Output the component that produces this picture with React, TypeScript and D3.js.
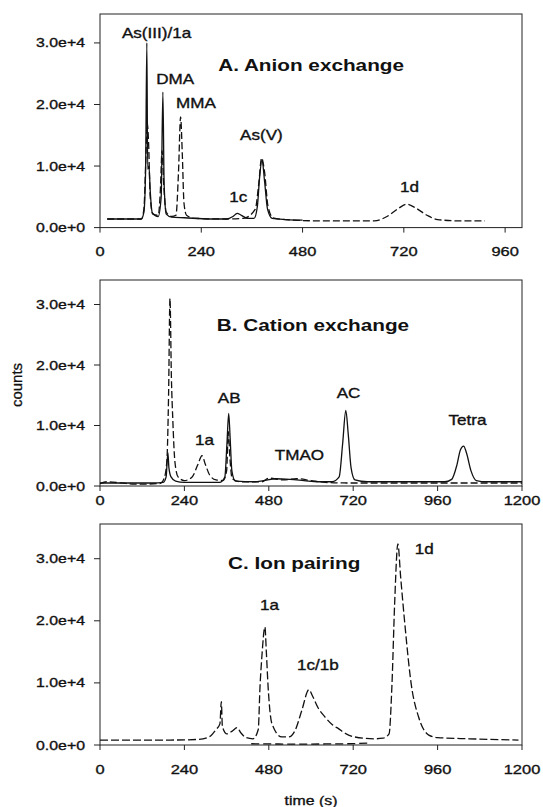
import React from 'react';
import * as d3 from 'd3';

type Pt = [number, number];

// ---- A. Anion exchange (time s, counts)
const anionSolid: Pt[] = [
  [17, 1400], [98, 1400], [104, 2500], [108, 9000], [111, 30000], [113, 9500], [116, 10000],
  [119, 6000], [124, 2400], [138, 1800], [145, 5000], [149, 22000], [152, 7000], [157, 2200],
  [170, 1700], [200, 1600], [260, 1400], [300, 1400], [315, 1800], [325, 2300], [335, 2000],
  [350, 1500], [365, 1500], [373, 3500], [378, 8000], [384, 11000], [390, 7500], [397, 3000],
  [408, 1500], [440, 1300], [480, 1200],
];
const anionDashed: Pt[] = [
  [17, 1400], [98, 1400], [104, 3000], [109, 12000], [112, 17000], [115, 14000], [119, 5000],
  [125, 2200], [138, 2000], [143, 6000], [147, 12500], [151, 7000], [157, 2500], [170, 1800],
  [180, 2000], [186, 9000], [191, 18000], [195, 12000], [199, 4000], [205, 2000], [225, 1500],
  [300, 1400], [340, 1500], [368, 3000], [376, 7000], [383, 11300], [390, 9000], [398, 3500],
  [410, 1600], [440, 1300], [520, 1100], [650, 1100], [680, 1800], [705, 3000], [727, 3800],
  [750, 3100], [775, 2000], [800, 1300], [850, 1100], [912, 1100],
];

// ---- B. Cation exchange
const cationSolid: Pt[] = [
  [0, 500], [150, 500], [180, 600], [188, 1500], [193, 5500], [196, 3000], [202, 1500],
  [215, 800], [240, 600], [340, 600], [355, 1500], [361, 7000], [366, 12000], [370, 8000],
  [375, 2500], [385, 800], [440, 700], [465, 900], [500, 1200], [540, 1100], [580, 900],
  [620, 700], [660, 700], [680, 1500], [690, 7000], [699, 12500], [706, 8500], [714, 3000],
  [725, 1000], [760, 700], [980, 700], [1000, 1100], [1015, 3500], [1025, 6000], [1034, 6600],
  [1042, 5500], [1055, 2500], [1070, 900], [1100, 700], [1200, 700],
];
const cationDashed: Pt[] = [
  [0, 400], [20, 700], [60, 500], [100, 300], [170, 400], [182, 1200], [190, 4000],
  [195, 15000], [199, 31000], [203, 18000], [207, 11000], [213, 4000], [222, 1500], [240, 900],
  [262, 1500], [278, 3500], [290, 5000], [300, 3500], [312, 1800], [330, 1000], [350, 900],
  [360, 2500], [365, 9000], [369, 5000], [376, 1200], [400, 700], [460, 700], [480, 1300],
  [520, 1000], [560, 1200], [600, 900], [640, 600], [700, 500], [900, 500], [1200, 500],
];

// ---- C. Ion pairing
const ionPairDashed: Pt[] = [
  [0, 800], [200, 800], [280, 900], [310, 1300], [330, 2500], [341, 3400], [345, 7000],
  [348, 3000], [360, 1800], [375, 2200], [390, 2800], [400, 2000], [415, 1200], [435, 1000],
  [450, 2500], [455, 9400], [460, 14000], [469, 19000], [473, 15000], [478, 9400], [489, 3400],
  [517, 1300], [537, 1300], [556, 2500], [574, 5600], [594, 8900], [605, 7800], [620, 6000],
  [640, 4500], [660, 3300], [679, 2600], [700, 1800], [724, 1300], [780, 1000], [805, 1100],
  [822, 1800], [830, 9400], [838, 23000], [847, 32400], [855, 27000], [866, 20000],
  [886, 9400], [906, 4500], [935, 1600], [960, 1200], [1050, 1000], [1190, 800],
];
const ionPairLow: Pt[] = [
  [430, 200], [560, 150], [700, 200], [760, 300],
];

const yTicks = [0, 10000, 20000, 30000];
const xTicksA = [0, 240, 480, 720, 960];
const xTicksBC = [0, 240, 480, 720, 960, 1200];

const anionLabels = [
  { text: 'As(III)/1a', t: 52, c: 31600 },
  { text: 'DMA', t: 133, c: 24100 },
  { text: 'MMA', t: 180, c: 20200 },
  { text: 'As(V)', t: 332, c: 15000 },
  { text: '1c', t: 306, c: 5000 },
  { text: '1d', t: 711, c: 6600 },
];
const cationLabels = [
  { text: '1a', t: 270, c: 7600 },
  { text: 'AB', t: 335, c: 14500 },
  { text: 'TMAO', t: 497, c: 5100 },
  { text: 'AC', t: 673, c: 15400 },
  { text: 'Tetra', t: 991, c: 10900 },
];
const ionPairLabels = [
  { text: '1a', t: 455, c: 22500 },
  { text: '1c/1b', t: 560, c: 12900 },
  { text: '1d', t: 895, c: 31600 },
];

const W = 543;
const H = 807;
const PLOT_L = 100;
const PLOT_R = 522;
const STRETCH = 1.22;
const FONT = '"Liberation Sans", Arial, Helvetica, sans-serif';
const INK = '#111';

const fmt = (v: number) => d3.format('.1e')(v);

// scanned figure is a bit wider than tall, so text is stretched sideways
function SText({ x, y, size, weight = 'normal', anchor = 'start', children }: any) {
  return (
    <g transform={`translate(${x},${y}) scale(${STRETCH},1)`}>
      <text
        fontSize={size}
        fontWeight={weight}
        textAnchor={anchor}
        dy="0.35em"
        fill={INK}
        stroke={weight === 'bold' ? 'none' : INK}
        strokeWidth={0.35}
      >
        {children}
      </text>
    </g>
  );
}

type Trace = { data: Pt[]; dash?: string };

function Panel({ top, zero, yMax, xMax, xTicks, labelOff, title, traces, labels }: any) {
  const x = d3.scaleLinear().domain([0, xMax]).range([PLOT_L, PLOT_R]);
  const y = d3.scaleLinear().domain([0, yMax]).range([zero, top]);
  const line = d3
    .line<Pt>()
    .x((d) => x(d[0]))
    .y((d) => y(d[1]))
    .curve(d3.curveMonotoneX);

  return (
    <g>
      <rect x={PLOT_L} y={top} width={PLOT_R - PLOT_L} height={zero - top} fill="none" stroke="#222" strokeWidth={1} />
      {traces.map((tr: Trace, i: number) => (
        <path key={i} d={line(tr.data) || ''} fill="none" stroke={INK} strokeWidth={1.3} strokeDasharray={tr.dash} />
      ))}
      {yTicks.map((v) => (
        <g key={v}>
          <line x1={PLOT_L - 6} x2={PLOT_L} y1={y(v)} y2={y(v)} stroke="#222" />
          <SText x={85} y={y(v)} size={13} anchor="end">{fmt(v)}</SText>
        </g>
      ))}
      {xTicks.map((v: number) => (
        <g key={v}>
          <line x1={x(v)} x2={x(v)} y1={zero} y2={zero + 5} stroke="#222" />
          <SText x={x(v)} y={zero + labelOff} size={13.5} anchor="middle">{v}</SText>
        </g>
      ))}
      <SText x={x(title.t)} y={y(title.c)} size={17} weight="bold">{title.text}</SText>
      {labels.map((l: any) => (
        <SText key={l.text} x={x(l.t)} y={y(l.c)} size={14}>{l.text}</SText>
      ))}
    </g>
  );
}

export default function App() {
  return (
    <svg
      width={W}
      height={H}
      viewBox={`0 0 ${W} ${H}`}
      style={{ position: 'absolute', left: 0, top: 0, background: '#fff' }}
      fontFamily={FONT}
    >
      <rect width={W} height={H} fill="#fff" />
      <Panel
        top={14}
        zero={227.6}
        yMax={34700}
        xMax={1000}
        xTicks={xTicksA}
        labelOff={24}
        title={{ text: 'A. Anion exchange', t: 280, c: 26400 }}
        traces={[{ data: anionSolid }, { data: anionDashed, dash: '7,3' }]}
        labels={anionLabels}
      />
      <Panel
        top={280}
        zero={486}
        yMax={34050}
        xMax={1200}
        xTicks={xTicksBC}
        labelOff={14}
        title={{ text: 'B. Cation exchange', t: 332, c: 26600 }}
        traces={[{ data: cationSolid }, { data: cationDashed, dash: '7,3' }]}
        labels={cationLabels}
      />
      <Panel
        top={524}
        zero={745}
        yMax={35590}
        xMax={1200}
        xTicks={xTicksBC}
        labelOff={24}
        title={{ text: 'C. Ion pairing', t: 364, c: 29300 }}
        traces={[{ data: ionPairDashed, dash: '8,3' }, { data: ionPairLow, dash: '8,4' }]}
        labels={ionPairLabels}
      />
      <g transform="translate(17,385) rotate(-90)">
        <text fontSize={15} textAnchor="middle" dy="0.35em" fill={INK} stroke={INK} strokeWidth={0.3}>counts</text>
      </g>
      <SText x={311} y={800} size={13} anchor="middle">time (s)</SText>
    </svg>
  );
}
